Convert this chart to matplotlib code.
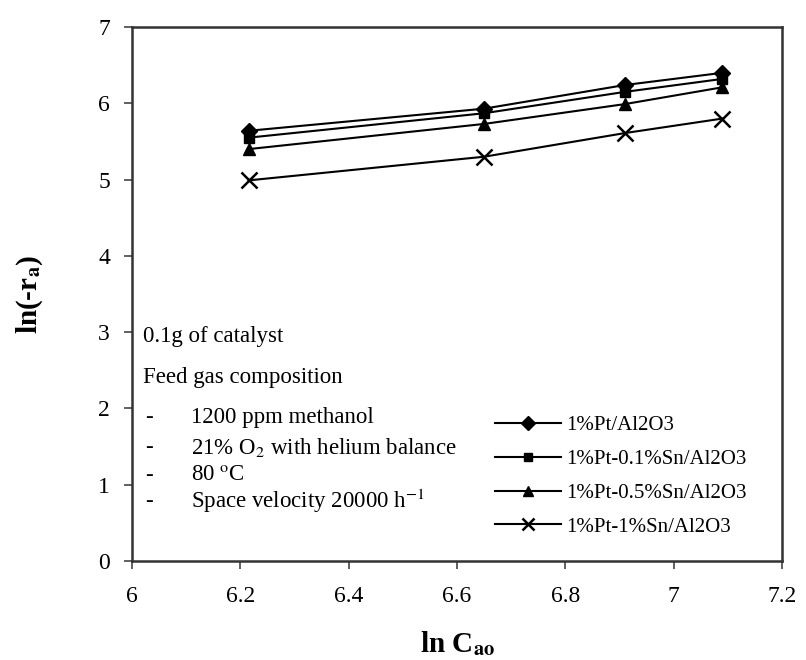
import matplotlib.pyplot as plt

plt.rcParams['font.family'] = ['Liberation Serif', 'DejaVu Serif']
plt.rcParams['mathtext.fontset'] = 'stix'

ln_cao = [6.215, 6.65, 6.91, 7.09]
pt = [5.64, 5.93, 6.24, 6.40]
pt_sn01 = [5.55, 5.87, 6.15, 6.32]
pt_sn05 = [5.40, 5.73, 5.99, 6.21]
pt_sn1 = [4.99, 5.30, 5.61, 5.80]
labels = ['1%Pt/Al2O3', '1%Pt-0.1%Sn/Al2O3', '1%Pt-0.5%Sn/Al2O3', '1%Pt-1%Sn/Al2O3']

fig = plt.figure(figsize=(8.06, 6.6), dpi=100)
ax = fig.add_axes([0.164, 0.15, 0.806, 0.809])

ax.plot(ln_cao, pt, 'k-', marker='D', ms=8, lw=1.5, label=labels[0])
ax.plot(ln_cao, pt_sn01, 'k-', marker='s', ms=7, lw=1.5, label=labels[1])
ax.plot(ln_cao, pt_sn05, 'k-', marker='^', ms=9, lw=1.5, label=labels[2])
ax.plot(ln_cao, pt_sn1, 'k-', marker='x', ms=11, mew=1.8, lw=1.5, label=labels[3])

ax.set_xlim(6, 7.2)
ax.set_ylim(0, 7)
ax.set_xticks([6, 6.2, 6.4, 6.6, 6.8, 7, 7.2])
ax.set_xticklabels(['6', '6.2', '6.4', '6.6', '6.8', '7', '7.2'])
ax.set_yticks(range(8))
ax.tick_params(labelsize=17, length=6, width=1.2, color='#444444')
ax.tick_params(axis='x', pad=12)
ax.tick_params(axis='y', pad=10)
for s in ax.spines.values():
    s.set_linewidth(1.8)
    s.set_color('#333333')

ax.set_xlabel('ln C$_{\\mathbf{ao}}$', fontsize=21, fontweight='bold', labelpad=16)
ax.set_ylabel('ln(-r$_{\\mathbf{a}}$)', fontsize=21, fontweight='bold', labelpad=38)

fs = 16.5
ax.text(0.017, 0.42, '0.1g of catalyst', transform=ax.transAxes, fontsize=fs, va='center')
ax.text(0.017, 0.343, 'Feed gas composition', transform=ax.transAxes, fontsize=fs, va='center')
items = ['1200 ppm methanol', '21% O$_2$ with helium balance', '80 $^{\\mathrm{o}}$C',
         'Space velocity 20000 h$^{\\mathrm{-1}}$']
item_y = [0.268, 0.213, 0.161, 0.112]
for t, y in zip(items, item_y):
    ax.text(0.02, y, '-', transform=ax.transAxes, fontsize=fs, va='center')
    ax.text(0.091, y, t, transform=ax.transAxes, fontsize=fs, va='center')

ax.legend(loc='upper left', bbox_to_anchor=(0.558, 0.272), frameon=False, fontsize=15,
          handlelength=3.2, labelspacing=0.68, handletextpad=0.25,
          borderpad=0, borderaxespad=0, markerscale=0.85)

fig.savefig('out.png', dpi=100)
